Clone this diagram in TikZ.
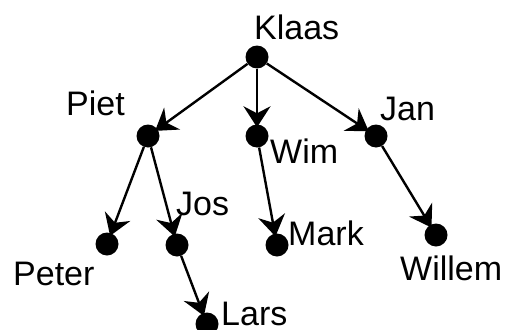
\documentclass[tikz,border=0pt]{standalone}
\usepackage{fontspec}
\setmainfont{Liberation Sans}
\usetikzlibrary{arrows.meta}
\begin{document}
\begin{tikzpicture}[x=1pt,y=-1pt,
  person/.style={circle,fill=black,inner sep=0pt,minimum size=23pt},
  lbl/.style={anchor=base west,inner sep=0pt,font=\fontsize{34}{40}\selectfont},
  edge/.style={line width=2.4pt,shorten >=-3pt,-{Stealth[length=21pt,width=27pt,inset=7pt]}}]
\useasboundingbox (0,0) rectangle (518,329);
% family members
\node[person] (klaas)  at (257,57)  {};
\node[person] (piet)   at (148,136) {};
\node[person] (wim)    at (257,136) {};
\node[person] (jan)    at (376,136) {};
\node[person] (peter)  at (107,244) {};
\node[person] (jos)    at (177,245) {};
\node[person] (mark)   at (277,245) {};
\node[person] (willem) at (436,235) {};
\node[person] (lars)   at (207,324) {};
% names
\node[lbl] (tklaas)  at (254,39)  {Klaas};
\node[lbl] (tpiet)   at (66,115)  {Piet};
\node[lbl] (tjan)    at (380,120) {Jan};
\node[lbl] (twim)    at (270,163) {Wim};
\node[lbl] (tjos)    at (176,215) {Jos};
\node[lbl] (tmark)   at (288,245) {Mark};
\node[lbl] (tpeter)  at (13,285)  {Peter};
\node[lbl] (twillem) at (400,280) {Willem};
\node[lbl] (tlars)   at (221,325) {Lars};
% descent lines
\draw[edge] (klaas) -- (piet);
\draw[edge] (klaas) -- (wim);
\draw[edge] (klaas) -- (jan);
\draw[edge] (piet) -- (peter);
\draw[edge] (piet) -- (jos);
\draw[edge] (wim) -- (mark);
\draw[edge] (jan) -- (willem);
\draw[edge] (jos) -- (lars);
\end{tikzpicture}
\end{document}
